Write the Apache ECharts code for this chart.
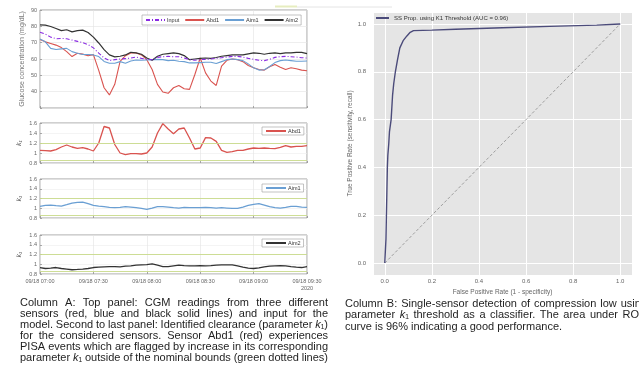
<!DOCTYPE html>
<html><head><meta charset="utf-8">
<script src="https://cdn.jsdelivr.net/npm/echarts@6/dist/echarts.min.js"></script>
<style>html,body{margin:0;padding:0;background:#fff;overflow:hidden}#c{width:639px;height:374px}</style>
</head><body><div id="c"></div><script>
// ---- data ----
const minutes = [0,3,6,9,12,15,18,21,24,27,30,33,36,39,42,45,48,51,54,57,60,63,66,69,72,75,78,81,84,87,90,93,96,99,102,105,108,111,114,117,120,123,126,129,132,135,138,141,144,147,150];
const timeTicks = ['09/18 07:00','09/18 07:30','09/18 08:00','09/18 08:30','09/18 09:00','09/18 09:30'];
const yearLabel = '2020';
const seriesNames = ['Input','Abd1','Aim1','Aim2'];
const glucoseInput = [76.4,75.2,73.4,72.4,72.6,72.4,71.6,70.8,70,68.8,66.8,63.6,60.6,59,59.6,60,60.2,60.6,61.2,60.4,59.8,59.6,61,61.4,61.6,61.4,61.4,60.6,59.6,59.2,59.6,59.8,60,60.4,60.8,61.2,61.6,61.6,61.2,60.4,59.8,59.2,59,59.8,61,61.4,61.6,61.4,61.2,60.8,60.6];
const glucoseAbd1 = [72,70.5,69.5,68.5,67,64.5,61.5,63.5,63,62,62.7,53,42.4,38,44.5,58.6,62,63.7,63.7,62.5,59.6,53.6,44.5,39.8,39,42.4,43.8,41.8,41.4,50.5,60.6,51.5,46.5,43.8,55.6,59.2,60,59.6,58.4,56,54.6,53.6,53.2,55.2,56.6,55,53.6,54.6,54,53.2,52.8];
const glucoseAim1 = [72.2,70.5,66.5,65.8,66.2,66.5,64.5,63.5,62.8,62.8,62.5,61.5,58.5,57.4,57.4,58.4,57.4,58.8,59.4,59.2,59.4,59.6,59.8,59.6,59,59.2,58.6,58.4,57.6,57.6,57.8,58,58,57.2,58.4,59.6,60,59.6,59,57,54.6,53.2,53.4,55.4,57.8,59,59.4,59,58.6,58.6,58.8];
const glucoseAim2 = [80.9,80.7,79.9,78.7,77.4,77.9,76.6,77.4,77.7,76.2,73.4,69.8,65.7,62.5,61.3,61.7,62.5,64.1,63.7,62.9,60.6,59.2,61.7,62.9,63.3,63.7,63.3,62.1,59.6,60,60.4,60.6,60.4,60.9,61.7,62.1,62.5,62.5,62.5,63.1,63.7,63.5,62.9,63.5,63.7,63.3,63.7,63.7,64.1,64.1,63.3];
const kAbd1 = [1.053,1.047,1.04,1.067,1.12,1.16,1.12,1.093,1.107,1.08,1.04,1.2,1.53,1.5,1.17,1.0,0.967,0.987,0.987,0.98,1.0,1.12,1.4,1.587,1.48,1.387,1.48,1.5,1.3,1.08,1.1,1.307,1.3,1.233,1.053,1.013,1.027,1.053,1.053,1.08,1.1,1.093,1.1,1.093,1.087,1.113,1.147,1.12,1.133,1.133,1.147];
const kAim1 = [1.038,1.059,1.066,1.052,1.045,1.073,1.107,1.121,1.127,1.093,1.059,1.045,1.032,1.018,1.011,1.018,1.032,1.025,1.011,0.997,0.977,1.004,1.032,1.032,1.025,1.011,1.004,1.018,1.011,1.011,1.011,1.018,1.011,1.004,1.011,1.004,0.997,0.997,1.025,1.059,1.079,1.093,1.066,1.032,1.011,1.004,1.018,1.038,1.038,1.025,1.018];
const kAim2 = [0.933,0.913,0.92,0.933,0.913,0.9,0.887,0.893,0.9,0.913,0.933,0.94,0.947,0.953,0.953,0.947,0.96,0.967,0.98,0.987,0.993,1.007,0.98,0.953,0.953,0.967,0.98,0.973,0.967,0.967,0.973,0.967,0.973,0.98,0.987,0.987,0.987,0.967,0.94,0.92,0.913,0.927,0.947,0.96,0.967,0.973,0.967,0.953,0.94,0.933,0.953];
const kBounds = [0.85, 1.2];
const rocName = 'SS Prop. using K1 Threshold (AUC = 0.96)';
const rocFpr = [0,0.003,0.005,0.007,0.009,0.011,0.013,0.017,0.02,0.027,0.033,0.038,0.045,0.054,0.064,0.078,0.094,0.108,0.122,0.2,0.3,0.5,0.7,0.9,1.0];
const rocTpr = [0,0,0.1,0.2,0.3,0.4,0.45,0.5,0.55,0.6,0.7,0.75,0.8,0.85,0.9,0.93,0.95,0.965,0.972,0.974,0.978,0.984,0.99,0.995,1.0];
const diagX = [0,1];
const diagY = [0,1];
const captionA = [
 'Column A: Top panel: CGM readings from three different',
 'sensors (red, blue and black solid lines) and input for the',
 'model. Second to last panel: Identified clearance (parameter k₁)',
 'for the considered sensors. Sensor Abd1 (red) experiences',
 'PISA events which are flagged by increase in its corresponding',
 'parameter k₁ outside of the nominal bounds (green dotted lines)'
];
const captionB = [
 'Column B: Single-sensor detection of compression low using',
 'parameter k₁ threshold as a classifier. The area under ROC',
 'curve is 96% indicating a good performance.'
];

// ---- helpers ----
const pair = (xs, ys) => xs.map((x, i) => [x, ys[i]]);
const tickFont = 5.5;
const FONT = '"Liberation Sans", Arial, sans-serif';
const cv = document.createElement('canvas').getContext('2d');
function measure(t, italic) { cv.font = (italic ? 'italic ' : '') + '11px ' + FONT; return cv.measureText(t).width; }
function segs(w) {
  const i = w.indexOf('k₁');
  if (i < 0) return [{ t: w }];
  return [{ t: w.slice(0, i) }, { t: 'k', it: true }, { t: w.slice(i + 1) }].filter(s => s.t.length);
}
const graphics = [];
function layoutLine(text, x0, x1, y, justify) {
  const words = text.split(' ').map(w => { const s = segs(w); s.forEach(p => p.w = measure(p.t, p.it)); return { s, w: s.reduce((a, p) => a + p.w, 0) }; });
  const total = words.reduce((a, w) => a + w.w, 0);
  const gap = justify ? (x1 - x0 - total) / (words.length - 1) : measure(' ');
  let x = x0;
  words.forEach(w => {
    let xx = x;
    w.s.forEach(p => {
      graphics.push({ type: 'text', x: xx, y: y, silent: true, style: { text: p.t, fill: '#1e1e1e', fontSize: 11, fontFamily: FONT, fontStyle: p.it ? 'italic' : 'normal', textVerticalAlign: 'middle', verticalAlign: 'middle' } });
      xx += p.w;
    });
    x += w.w + gap;
  });
}
captionA.forEach((l, i) => layoutLine(l, 20, 328, 302.5 + i * 11, true));
captionB.forEach((l, i) => layoutLine(l, 345, 647, 304 + i * 11.3, i < 2));
graphics.push({ type: 'rect', shape: { x: 275, y: 5.5, width: 22, height: 2 }, style: { fill: '#e6edbf' }, silent: true });
graphics.push({ type: 'line', shape: { x1: 297, y1: 7, x2: 392, y2: 7 }, style: { stroke: '#dddddd', lineWidth: 0.8 }, silent: true });

// ---- layout ----
const leftGrids = [
  { left: 40, top: 10, width: 267, height: 98 },
  { left: 40, top: 123, width: 267, height: 40 },
  { left: 40, top: 179, width: 267, height: 39 },
  { left: 40, top: 235, width: 267, height: 39 }
];
const grids = leftGrids.map(g => Object.assign({ show: true, borderColor: '#7a7a7a', borderWidth: 0.7, backgroundColor: '#fff', outerBoundsMode: 'none' }, g));
grids.push({ left: 373, top: 12, width: 259, height: 263, show: true, backgroundColor: '#e5e5e5', borderWidth: 0, outerBoundsMode: 'none' });

const xAxes = leftGrids.map((g, i) => ({
  gridIndex: i, type: 'value', min: 0, max: 150, interval: 30,
  axisLine: { show: false },
  axisTick: { show: true, inside: true, length: 2, lineStyle: { color: '#777', width: 0.6 } },
  splitLine: { show: true, lineStyle: { color: '#e2e2e2', width: 0.6 } },
  axisLabel: { show: i === 3, fontSize: 5.5, color: '#666', margin: 4, lineHeight: 7,
    formatter: v => { const k = Math.round(v / 30); return timeTicks[k] + (k === timeTicks.length - 1 ? '\n' + yearLabel : ''); } }
}));
xAxes.push({
  gridIndex: 4, type: 'value', min: -0.05, max: 1.05, splitNumber: 5,
  axisLine: { show: false }, axisTick: { show: false },
  splitLine: { show: true, lineStyle: { color: '#ffffff', width: 1 } },
  axisLabel: { fontSize: 6, color: '#666', margin: 3, formatter: v => Math.abs(v * 5 - Math.round(v * 5)) < 1e-6 ? v.toFixed(1) : '' },
  name: 'False Positive Rate (1 - specificity)', nameLocation: 'middle', nameGap: 11,
  nameTextStyle: { fontSize: 6.5, color: '#666' }
});
const kAxis = i => ({
  gridIndex: i, type: 'value', min: 0.8, max: 1.6, interval: 0.2,
  axisLine: { show: false },
  axisTick: { show: true, inside: true, length: 2, lineStyle: { color: '#777', width: 0.6 } },
  splitLine: { show: true, lineStyle: { color: '#ececec', width: 0.6 } },
  axisLabel: { fontSize: tickFont, color: '#666', margin: 3, formatter: v => String(Math.round(v * 10) / 10) },
  name: 'k₁', nameLocation: 'middle', nameGap: 17, nameRotate: 90,
  nameTextStyle: { fontSize: 6.5, color: '#555', fontStyle: 'italic' }
});
const yAxes = [
  { gridIndex: 0, type: 'value', min: 30, max: 90, interval: 10,
    axisLine: { show: false },
    axisTick: { show: true, inside: true, length: 2, lineStyle: { color: '#777', width: 0.6 } },
    splitLine: { show: true, lineStyle: { color: '#e2e2e2', width: 0.6 } },
    axisLabel: { fontSize: tickFont, color: '#666', margin: 3, formatter: v => v === 30 ? '' : String(v) },
    name: 'Glucose concentration (mg/dL)', nameLocation: 'middle', nameGap: 14,
    nameTextStyle: { fontSize: 7, color: '#777' } },
  kAxis(1), kAxis(2), kAxis(3),
  { gridIndex: 4, type: 'value', min: -0.05, max: 1.05, splitNumber: 5,
    axisLine: { show: false }, axisTick: { show: false },
    splitLine: { show: true, lineStyle: { color: '#ffffff', width: 1 } },
    axisLabel: { fontSize: 6, color: '#666', margin: 7, formatter: v => Math.abs(v * 5 - Math.round(v * 5)) < 1e-6 ? v.toFixed(1) : '' },
    name: 'True Positive Rate (sensitivity, recall)', nameLocation: 'middle', nameGap: 16,
    nameTextStyle: { fontSize: 6.5, color: '#666' } }
];

const colors = { Input: '#8a2be2', Abd1: '#d9534f', Aim1: '#6a9fd3', Aim2: '#333333' };
const line = (name, xi, yi, data, color, width, type) => ({
  name, type: 'line', xAxisIndex: xi, yAxisIndex: yi, data, symbol: 'none', showSymbol: false,
  lineStyle: { color, width, type: type || 'solid' }, itemStyle: { color }, animation: false, z: 3
});
const boundsMark = { silent: true, symbol: 'none', label: { show: false },
  lineStyle: { color: '#c8da8a', width: 0.9, type: 'solid' }, data: kBounds.map(b => ({ yAxis: b })) };

const series = [
  line('Abd1', 0, 0, pair(minutes, glucoseAbd1), colors.Abd1, 1.1),
  line('Aim1', 0, 0, pair(minutes, glucoseAim1), colors.Aim1, 1.1),
  line('Aim2', 0, 0, pair(minutes, glucoseAim2), colors.Aim2, 1.2),
  line('Input', 0, 0, pair(minutes, glucoseInput), colors.Input, 1.1, [4, 2, 1, 2]),
  Object.assign(line('Abd1', 1, 1, pair(minutes, kAbd1), colors.Abd1, 1.3), { markLine: boundsMark }),
  Object.assign(line('Aim1', 2, 2, pair(minutes, kAim1), colors.Aim1, 1.3), { markLine: boundsMark }),
  Object.assign(line('Aim2', 3, 3, pair(minutes, kAim2), colors.Aim2, 1.3), { markLine: boundsMark }),
  line(rocName, 4, 4, pair(rocFpr, rocTpr), '#4b4b7a', 1.4),
  Object.assign(line('chance', 4, 4, pair(diagX, diagY), '#8a8a8a', 0.8, [3, 2]), { z: 2 })
];

const legendBase = { itemWidth: 19, itemHeight: 6, itemGap: 5, padding: [2, 3], borderColor: '#9a9a9a', borderWidth: 0.6,
  backgroundColor: '#fff', itemStyle: { opacity: 0 }, textStyle: { fontSize: 5.5, color: '#333', padding: [0, 0, 0, -3] }, selectedMode: false, orient: 'horizontal' };
const legends = [
  Object.assign({}, legendBase, { left: 142, top: 15, data: seriesNames }),
  Object.assign({}, legendBase, { left: 262, top: 127, data: ['Abd1'], padding: [1, 3], itemWidth: 20 }),
  Object.assign({}, legendBase, { left: 262, top: 184, data: ['Aim1'], padding: [1, 3], itemWidth: 20 }),
  Object.assign({}, legendBase, { left: 262, top: 239, data: ['Aim2'], padding: [1, 3], itemWidth: 20 }),
  { left: 375, top: 15, data: [rocName], itemWidth: 13, itemHeight: 6, selectedMode: false, borderWidth: 0, padding: 0,
    itemStyle: { opacity: 0 }, textStyle: { fontSize: 6, color: '#333' } }
];

const chart = echarts.init(document.getElementById('c'), null, { renderer: 'canvas' });
chart.setOption({
  animation: false,
  backgroundColor: '#ffffff',
  grid: grids, xAxis: xAxes, yAxis: yAxes, legend: legends, series, graphic: graphics
});
</script></body></html>
